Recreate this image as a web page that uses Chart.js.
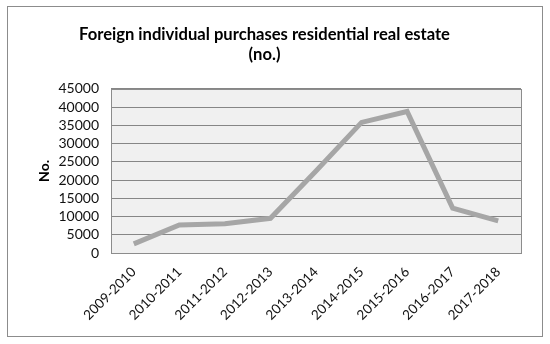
<!DOCTYPE html>
<html>
<head>
<meta charset="utf-8">
<script src="https://cdn.jsdelivr.net/npm/chart.js@4"></script>
<style>
  body { margin:0; background:#fff; }
  #wrap { width:550px; height:344px; }
</style>
</head>
<body>
<div id="wrap"><canvas id="chart"></canvas></div>
<script>
const years = ["2009-2010","2010-2011","2011-2012","2012-2013","2013-2014","2014-2015","2015-2016","2016-2017","2017-2018"];
const purchases = [2500, 7700, 8000, 9500, 22500, 35800, 38800, 12300, 8800];
const titleLines = ["Foreign individual purchases residential real estate", "(no.)"];
const yTitle = "No.";

// frame round the whole chart + grey plot area
const frame = {
  id: 'frame',
  beforeDraw(chart) {
    const c = chart.ctx, a = chart.chartArea;
    c.save();
    c.strokeStyle = '#8c8c8c';
    c.lineWidth = 1;
    c.strokeRect(7.5, 6.5, 535, 330);
    c.fillStyle = '#f0f0f0';
    c.fillRect(a.left, a.top, a.right - a.left, a.bottom - a.top);
    c.restore();
  },
  afterDatasetsDraw(chart) {
    const c = chart.ctx, a = chart.chartArea;
    c.save();
    c.strokeStyle = '#8c8c8c';
    c.lineWidth = 1;
    c.strokeRect(Math.round(a.left) + 0.5, Math.round(a.top) + 0.5, Math.round(a.right - a.left), Math.round(a.bottom - a.top));
    c.restore();
  }
};

new Chart(document.getElementById('chart'), {
  type: 'line',
  data: {
    labels: years,
    datasets: [{
      data: purchases,
      borderColor: '#a6a6a6',
      borderWidth: 5,
      pointRadius: 0,
      tension: 0,
      fill: false
    }]
  },
  options: {
    responsive: true,
    maintainAspectRatio: false,
    animation: false,
    layout: { padding: { left: 8, right: 29, top: 25, bottom: 6 } },
    plugins: {
      legend: { display: false },
      tooltip: { enabled: false },
      title: {
        display: true,
        text: titleLines,
        color: '#000',
        font: { family: 'Lato', size: 16.6, weight: 'bold', lineHeight: 1.2 },
        padding: { top: 0, bottom: 24 }
      }
    },
    scales: {
      x: {
        offset: true,
        afterFit(s) { s.height = 85; },
        grid: { display: false },
        border: { display: false },
        ticks: {
          color: '#111',
          font: { family: 'Lato', size: 13.5 },
          maxRotation: 45, minRotation: 45,
          autoSkip: false
        }
      },
      y: {
        min: 0, max: 45000,
        afterFit(s) { s.width = 103; },
        grid: { color: '#868686', drawTicks: false, lineWidth: 1 },
        border: { display: false },
        ticks: {
          stepSize: 5000,
          autoSkip: false,
          color: '#111',
          padding: 12,
          font: { family: 'Lato', size: 14 },
          callback: v => String(v)
        },
        title: {
          display: true,
          text: yTitle,
          color: '#000',
          font: { family: 'Lato', size: 14, weight: 'bold' },
          padding: { top: 28, bottom: 0 }
        }
      }
    }
  },
  plugins: [frame]
});
</script>
</body>
</html>
